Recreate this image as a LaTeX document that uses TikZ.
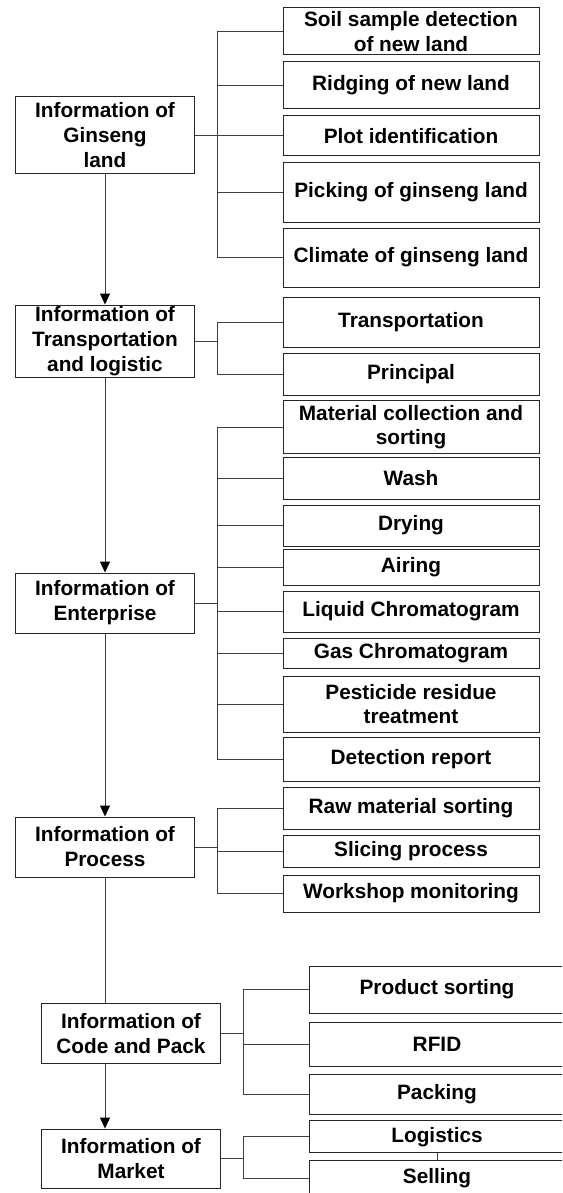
\documentclass[tikz,border=0pt]{standalone}
\usepackage{fontspec}
\setmainfont{Liberation Sans}
\usetikzlibrary{arrows.meta}

\begin{document}
\begin{tikzpicture}[x=1pt,y=-1pt,
    info/.style={draw=black!85,line width=1pt,inner sep=0pt,align=center,
        minimum width=178.6pt,font={\fontsize{20.8}{25}\selectfont\bfseries}},
    item/.style={draw=black!85,line width=1pt,inner sep=0pt,align=center,
        minimum width=256pt,font={\fontsize{20.8}{24.5}\selectfont\bfseries}},
    link/.style={draw=black!75,line width=1pt},
    >={Triangle[length=11pt,width=10pt,black]}]
\useasboundingbox (0,0) rectangle (562,1193);
\clip (0,0) rectangle (562,1193);

\node[info,minimum height=77pt] (gl) at (105,135.5) {Information of\\Ginseng\\land};
\node[info,minimum height=72pt] (tl) at (105,341) {Information of\\Transportation\\and logistic};
\node[info,minimum height=60pt] (ep) at (105,603) {Information of\\Enterprise};
\node[info,minimum height=60pt] (pr) at (105,847) {Information of\\Process};
\node[info,minimum height=59.5pt] (cp) at (131,1033.7) {Information of\\Code and Pack};
\node[info,minimum height=59.3pt] (mk) at (131,1158.7) {Information of\\Market};

%land
\node[item,minimum height=47pt] (soil) at (411,31.5) {Soil sample detection\\of new land};
\node[item,minimum height=47pt] (ridge) at (411,85.5) {Ridging of new land};
\node[item,minimum height=40pt] (plot) at (411,136) {Plot identification};
\node[item,minimum height=59pt] (pick) at (411,192.5) {Picking of ginseng land};
\node[item,minimum height=59pt] (clim) at (411,257.5) {Climate of ginseng land};
\draw[link] (gl.east) -- ++(23,0) |- (soil.west);
\draw[link] (gl.east) -- ++(23,0) |- (ridge.west);
\draw[link] (gl.east) -- ++(23,0) |- (plot.west);
\draw[link] (gl.east) -- ++(23,0) |- (pick.west);
\draw[link] (gl.east) -- ++(23,0) |- (clim.west);

%transportation
\node[item,minimum height=50pt] (trans) at (411,322) {Transportation};
\node[item,minimum height=42pt] (princ) at (411,374) {Principal};
\draw[link] (tl.east) -- ++(23,0) |- (trans.west);
\draw[link] (tl.east) -- ++(23,0) |- (princ.west);

%enterprise
\node[item,minimum height=53pt] (coll) at (411,427.3) {Material collection and\\sorting};
\node[item,minimum height=42pt] (wash) at (411,478) {Wash};
\node[item,minimum height=41pt] (dry) at (411,525.5) {Drying};
\node[item,minimum height=36pt] (air) at (411,567) {Airing};
\node[item,minimum height=41pt] (lc) at (411,611.5) {Liquid Chromatogram};
\node[item,minimum height=30pt] (gc) at (411,653) {Gas Chromatogram};
\node[item,minimum height=56pt] (pest) at (411,704) {Pesticide residue\\treatment};
\node[item,minimum height=44pt] (rep) at (411,759) {Detection report};
\draw[link] (ep.east) -- ++(23,0) |- (coll.west);
\draw[link] (ep.east) -- ++(23,0) |- (wash.west);
\draw[link] (ep.east) -- ++(23,0) |- (dry.west);
\draw[link] (ep.east) -- ++(23,0) |- (air.west);
\draw[link] (ep.east) -- ++(23,0) |- (lc.west);
\draw[link] (ep.east) -- ++(23,0) |- (gc.west);
\draw[link] (ep.east) -- ++(23,0) |- (pest.west);
\draw[link] (ep.east) -- ++(23,0) |- (rep.west);

%process
\node[item,minimum height=42pt] (raw) at (411,808) {Raw material sorting};
\node[item,minimum height=32pt] (slice) at (411,851) {Slicing process};
\node[item,minimum height=37pt] (shop) at (411,893.5) {Workshop monitoring};
\draw[link] (pr.east) -- ++(23,0) |- (raw.west);
\draw[link] (pr.east) -- ++(23,0) |- (slice.west);
\draw[link] (pr.east) -- ++(23,0) |- (shop.west);

%code and pack
\node[item,minimum height=47pt] (psort) at (437,989.5) {Product sorting};
\node[item,minimum height=44pt] (rfid) at (437,1044.7) {RFID};
\node[item,minimum height=40pt] (pack) at (437,1094) {Packing};
\draw[link] (cp.east) -- ++(23,0) |- (psort.west);
\draw[link] (cp.east) -- ++(23,0) |- (rfid.west);
\draw[link] (cp.east) -- ++(23,0) |- (pack.west);

%market
\node[item,minimum height=32pt] (logi) at (437,1136.7) {Logistics};
\node[item,minimum height=36pt] (sell) at (437,1178) {Selling};
\draw[link] (mk.east) -- ++(23,0) |- (logi.west);
\draw[link] (mk.east) -- ++(23,0) |- (sell.west);
\draw[link] (logi.south) -- (sell.north);

\draw[link,->] (gl.south) -- (tl.north);
\draw[link,->] (tl.south) -- (ep.north);
\draw[link,->] (ep.south) -- (pr.north);
\draw[link] (pr.south) -- (pr.south |- cp.north);
\draw[link,->] (pr.south |- cp.south) -- (pr.south |- mk.north);
\end{tikzpicture}
\end{document}
